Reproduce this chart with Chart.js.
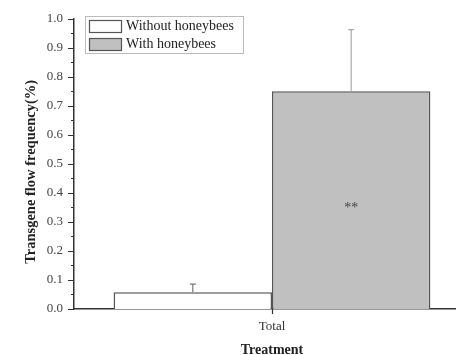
<!DOCTYPE html>
<html>
<head>
<meta charset="utf-8">
<script src="https://cdn.jsdelivr.net/npm/chart.js@4/dist/chart.umd.min.js"></script>
<style>
  html, body { margin: 0; padding: 0; overflow: hidden; background: #fff; }
  #wrap { position: absolute; left: 0; top: 0; width: 470px; height: 362px; }
</style>
</head>
<body>
<div id="wrap"><canvas id="c" width="470" height="362"></canvas></div>
<script>
// Transgene flow frequency, with and without honeybees
const categories = ['Total'];
const seriesLabels = ['Without honeybees', 'With honeybees'];
const withoutBees = [0.058];
const withBees = [0.75];
const withoutBeesErr = [0.028];
const withBeesErr = [0.213];
const significance = ['', '**'];
const yMin = 0, yMax = 1.0, yStep = 0.1;
const yTitle = 'Transgene flow frequency(%)';

const FONT = 'Liberation Serif, Times New Roman, serif';
const AXIS = '#333';

// Upward-only error bars plus the significance mark
const errorBars = {
  id: 'errorBars',
  afterDatasetsDraw(chart) {
    const ctx = chart.ctx;
    const y = chart.scales.y;
    const errs = [withoutBeesErr, withBeesErr];
    const colors = ['#777', '#aaa'];
    chart.data.datasets.forEach((ds, i) => {
      const meta = chart.getDatasetMeta(i);
      meta.data.forEach((bar, j) => {
        const top = y.getPixelForValue(ds.data[j] + errs[i][j]);
        ctx.save();
        ctx.strokeStyle = colors[i];
        ctx.lineWidth = 1.2;
        ctx.beginPath();
        ctx.moveTo(bar.x, bar.y);
        ctx.lineTo(bar.x, top);
        ctx.moveTo(bar.x - 3, top);
        ctx.lineTo(bar.x + 3, top);
        ctx.stroke();
        if (significance[i]) {
          ctx.fillStyle = '#444';
          ctx.font = '14px ' + FONT;
          ctx.textAlign = 'center';
          ctx.textBaseline = 'middle';
          ctx.fillText(significance[i], bar.x, (bar.y + bar.base) / 2 + 8);
        }
        ctx.restore();
      });
    });
  }
};

// Major and minor tick marks on both axes, and the vertical axis title
const tickMarks = {
  id: 'tickMarks',
  afterDraw(chart) {
    const ctx = chart.ctx;
    const y = chart.scales.y, x = chart.scales.x;
    const left = chart.chartArea.left, bottom = chart.chartArea.bottom;
    ctx.save();
    ctx.strokeStyle = AXIS;
    ctx.lineWidth = 1.2;
    ctx.beginPath();
    const n = Math.round((yMax - yMin) / (yStep / 2));
    for (let k = 0; k <= n; k++) {
      const py = Math.round(y.getPixelForValue(yMin + k * yStep / 2)) + 0.5;
      const len = k % 2 === 0 ? 6 : 3;
      ctx.moveTo(left - len, py);
      ctx.lineTo(left, py);
    }
    categories.forEach((c, i) => {
      const px = Math.round(x.getPixelForValue(i)) + 0.5;
      ctx.moveTo(px, bottom);
      ctx.lineTo(px, bottom + 5);
    });
    ctx.stroke();

    ctx.translate(31, (chart.chartArea.top + bottom) / 2 + 8);
    ctx.rotate(-Math.PI / 2);
    ctx.fillStyle = '#222';
    ctx.font = 'bold 14.5px ' + FONT;
    ctx.textAlign = 'center';
    ctx.textBaseline = 'middle';
    ctx.fillText(yTitle, 0, 0);
    ctx.restore();
  }
};

// Boxed legend inside the plot area
const boxLegend = {
  id: 'boxLegend',
  afterDraw(chart) {
    const ctx = chart.ctx;
    const bx = 85.5, by = 16.5, bw = 158, bh = 37;
    ctx.save();
    ctx.strokeStyle = '#bbb';
    ctx.lineWidth = 1;
    ctx.strokeRect(bx, by, bw, bh);
    chart.data.datasets.forEach((ds, i) => {
      const sy = 20.5 + i * 18;
      ctx.fillStyle = ds.backgroundColor;
      ctx.fillRect(89.5, sy, 32, 12);
      ctx.strokeStyle = '#555';
      ctx.lineWidth = 1.2;
      ctx.strokeRect(89.5, sy, 32, 12);
      ctx.fillStyle = '#222';
      ctx.font = '14px ' + FONT;
      ctx.textAlign = 'left';
      ctx.textBaseline = 'middle';
      ctx.fillText(ds.label, 126, sy + 6);
    });
    ctx.restore();
  }
};

new Chart(document.getElementById('c'), {
  type: 'bar',
  data: {
    labels: categories,
    datasets: [
      { label: seriesLabels[0], data: withoutBees, backgroundColor: '#ffffff',
        borderColor: '#555', borderWidth: 1.5, borderSkipped: 'bottom' },
      { label: seriesLabels[1], data: withBees, backgroundColor: '#c0c0c0',
        borderColor: '#555', borderWidth: 1.5, borderSkipped: 'bottom' }
    ]
  },
  options: {
    responsive: false,
    animation: false,
    devicePixelRatio: 1,
    categoryPercentage: 0.8,
    barPercentage: 1.0,
    layout: { padding: { top: 17, right: 0, left: 0, bottom: 0 } },
    plugins: { legend: { display: false }, tooltip: { enabled: false } },
    scales: {
      x: {
        grid: { display: false, drawTicks: false },
        border: { display: true, color: AXIS, width: 1.5 },
        ticks: { color: '#333', font: { family: FONT, size: 13 }, padding: 10 },
        title: { display: true, text: 'Treatment', color: '#222',
                 font: { family: FONT, size: 14, weight: 'bold' }, padding: { top: 0, bottom: 3 } },
        afterFit(s) { s.height = 53; }
      },
      y: {
        min: yMin, max: yMax,
        grid: { display: false, drawTicks: false },
        border: { display: true, color: AXIS, width: 1.5 },
        ticks: { stepSize: yStep, color: '#444', font: { family: FONT, size: 13 }, padding: 11,
                 callback: v => v.toFixed(1) },
        title: { display: false },
        afterFit(s) { s.width = 74; }
      }
    }
  },
  plugins: [errorBars, tickMarks, boxLegend]
});
</script>
</body>
</html>
